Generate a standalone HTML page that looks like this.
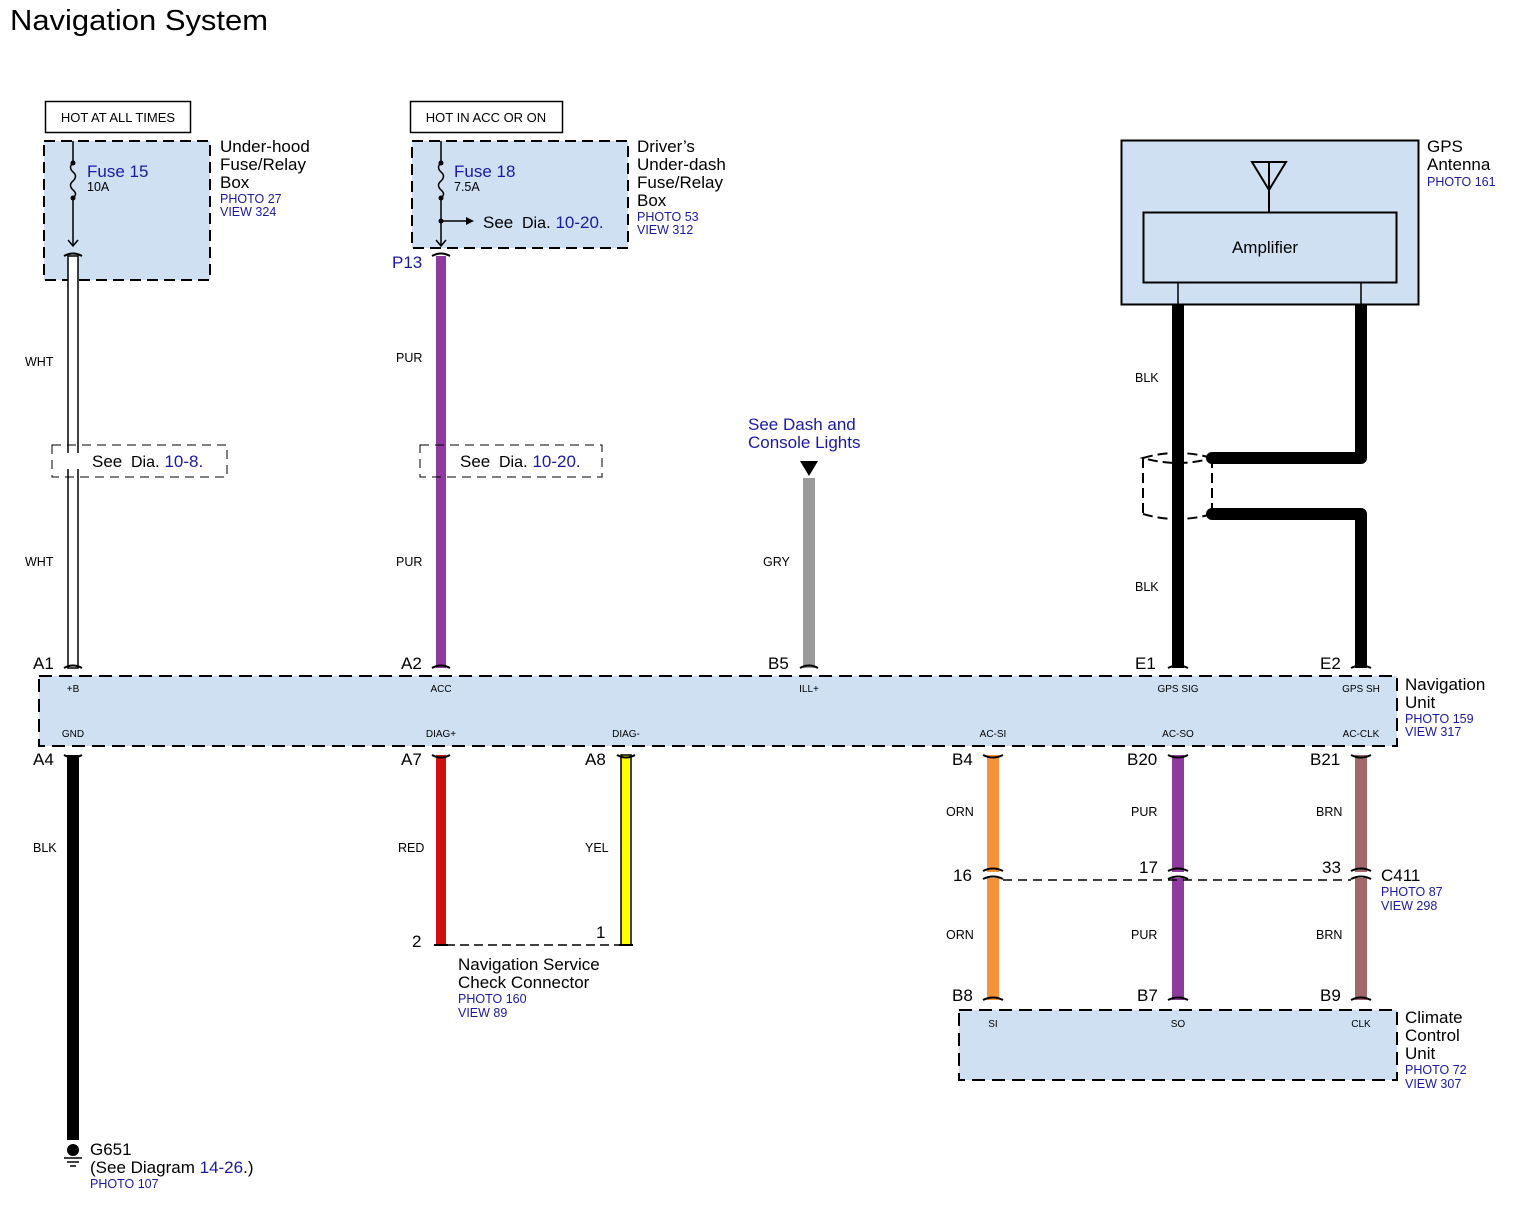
<!DOCTYPE html>
<html><head><meta charset="utf-8"><style>
html,body{margin:0;padding:0;background:#fff;}
svg{display:block;font-family:"Liberation Sans",Arial,sans-serif;}
.b{fill:#1a1aa0}
.s{font-size:12.5px}
.m{font-size:17px}
</style></head><body>
<svg width="1519" height="1207" viewBox="0 0 1519 1207" xmlns="http://www.w3.org/2000/svg">
<text x="10" y="30" font-size="29" textLength="258" lengthAdjust="spacingAndGlyphs">Navigation System</text>

<rect x="45.5" y="101.5" width="145" height="31" fill="#fff" stroke="#000" stroke-width="1.5"/>
<text x="118" y="122" font-size="13" text-anchor="middle">HOT AT ALL TIMES</text>
<rect x="410.5" y="101.5" width="152" height="31" fill="#fff" stroke="#000" stroke-width="1.5"/>
<text x="486" y="122" font-size="13" text-anchor="middle">HOT IN ACC OR ON</text>

<rect x="44" y="141" width="166" height="139" fill="#cfe0f3" stroke="#000" stroke-width="2" stroke-dasharray="11,6"/>
<rect x="412" y="141" width="216" height="107" fill="#cfe0f3" stroke="#000" stroke-width="2" stroke-dasharray="11,6"/>
<line x1="73" y1="141" x2="73" y2="163" stroke="#000" stroke-width="1.5"/>
<circle cx="73" cy="163" r="2.5"/><circle cx="73" cy="198" r="2.5"/>
<path d="M73 163 q-5 4 0 9 q5 4 0 9 q-5 4 0 9 q5 4 0 8" fill="none" stroke="#000" stroke-width="1.5"/>
<line x1="73" y1="198" x2="73" y2="246" stroke="#000" stroke-width="1.5"/>
<path d="M68 240 L73 246 L78 240" fill="none" stroke="#000" stroke-width="1.5"/>
<text x="87" y="177" font-size="17" class="b">Fuse 15</text>
<text x="87" y="191" class="s">10A</text>
<text x="220" y="152" class="m">Under-hood</text>
<text x="220" y="170" class="m">Fuse/Relay</text>
<text x="220" y="188" class="m">Box</text>
<text x="220" y="203" class="s b">PHOTO 27</text>
<text x="220" y="216" class="s b">VIEW 324</text>
<line x1="441" y1="141" x2="441" y2="163" stroke="#000" stroke-width="1.5"/>
<circle cx="441" cy="163" r="2.5"/><circle cx="441" cy="198" r="2.5"/><circle cx="441" cy="221" r="2.5"/>
<path d="M441 163 q-5 4 0 9 q5 4 0 9 q-5 4 0 9 q5 4 0 8" fill="none" stroke="#000" stroke-width="1.5"/>
<line x1="441" y1="198" x2="441" y2="246" stroke="#000" stroke-width="1.5"/>
<path d="M436 240 L441 246 L446 240" fill="none" stroke="#000" stroke-width="1.5"/>
<line x1="441" y1="221" x2="470" y2="221" stroke="#000" stroke-width="1.5"/>
<path d="M466 217 L474 221 L466 225 Z"/>
<text x="454" y="177" font-size="17" class="b">Fuse 18</text>
<text x="454" y="191" class="s">7.5A</text>
<text x="483" y="228" font-size="17">See <tspan dx="4" font-size="16">Dia</tspan>. <tspan class="b">10-20.</tspan></text>
<text x="637" y="152" class="m">Driver’s</text>
<text x="637" y="170" class="m">Under-dash</text>
<text x="637" y="188" class="m">Fuse/Relay</text>
<text x="637" y="206" class="m">Box</text>
<text x="637" y="221" class="s b">PHOTO 53</text>
<text x="637" y="234" class="s b">VIEW 312</text>

<rect x="68" y="256" width="10" height="412" fill="#fff" stroke="#000" stroke-width="1.5"/>
<path d="M64 256 q9 -5 18 0" fill="none" stroke="#000" stroke-width="2"/>
<path d="M64 668 q9 -5 18 0" fill="none" stroke="#000" stroke-width="2"/>
<text x="25" y="366" class="s">WHT</text>
<text x="25" y="566" class="s">WHT</text>
<rect x="52" y="445" width="175" height="32" fill="none" stroke="#000" stroke-width="1" stroke-dasharray="9,6"/>
<rect x="60" y="453" width="20" height="16" fill="#fff"/>
<text x="92" y="467" font-size="17">See <tspan dx="4" font-size="16">Dia</tspan>. <tspan class="b">10-8.</tspan></text>
<text x="33" y="669" class="m">A1</text>

<rect x="436" y="256" width="10" height="412" fill="#8e3a9e"/>
<path d="M432 256 q9 -5 18 0" fill="none" stroke="#000" stroke-width="2"/>
<path d="M432 668 q9 -5 18 0" fill="none" stroke="#000" stroke-width="2"/>
<text x="392" y="268" class="m b">P13</text>
<text x="396" y="362" class="s">PUR</text>
<text x="396" y="566" class="s">PUR</text>
<rect x="420" y="445" width="182" height="32" fill="none" stroke="#000" stroke-width="1" stroke-dasharray="9,6"/>
<rect x="428" y="453" width="26" height="16" fill="#fff"/>
<rect x="436" y="453" width="10" height="16" fill="#8e3a9e"/>
<text x="460" y="467" font-size="17">See <tspan dx="4" font-size="16">Dia</tspan>. <tspan class="b">10-20.</tspan></text>
<text x="401" y="669" class="m">A2</text>

<text x="748" y="430" class="m b">See Dash and</text>
<text x="748" y="448" class="m b">Console Lights</text>
<path d="M800 461 L818 461 L809 476 Z"/>
<rect x="803" y="478" width="12" height="190" fill="#9a9a9a"/>
<path d="M800 668 q9 -5 18 0" fill="none" stroke="#000" stroke-width="2"/>
<text x="763" y="566" class="s">GRY</text>
<text x="768" y="669" class="m">B5</text>

<rect x="1121.5" y="140.5" width="297" height="164" fill="#cfe0f3" stroke="#000" stroke-width="2"/>
<rect x="1143.5" y="212.5" width="253" height="70" fill="#cfe0f3" stroke="#000" stroke-width="2"/>
<text x="1265" y="253" class="m" text-anchor="middle">Amplifier</text>
<path d="M1252 162 L1269 190 L1286 162 Z" fill="none" stroke="#000" stroke-width="2"/>
<line x1="1269" y1="162" x2="1269" y2="212" stroke="#000" stroke-width="2"/>
<line x1="1178" y1="282" x2="1178" y2="304" stroke="#000" stroke-width="1.5"/>
<line x1="1361" y1="282" x2="1361" y2="304" stroke="#000" stroke-width="1.5"/>
<text x="1427" y="152" class="m">GPS</text>
<text x="1427" y="170" class="m">Antenna</text>
<text x="1427" y="186" class="s b">PHOTO 161</text>

<rect x="1172" y="304" width="12" height="364" fill="#000"/>
<path d="M1361 304 L1361 458 L1212 458" fill="none" stroke="#000" stroke-width="12" stroke-linejoin="round"/>
<path d="M1212 514 L1361 514 L1361 668" fill="none" stroke="#000" stroke-width="12" stroke-linejoin="round"/>
<circle cx="1212" cy="458" r="6"/><circle cx="1212" cy="514" r="6"/>
<path d="M1212 458 q-35 -10 -69 0 q35 10 69 0 M1212 514 q-35 10 -69 0 M1143 458 L1143 514 M1212 458 L1212 514" fill="none" stroke="#000" stroke-width="2" stroke-dasharray="10,5"/>
<path d="M1168 668 q10 -5 20 0 M1351 668 q10 -5 20 0" fill="none" stroke="#000" stroke-width="2"/>
<text x="1135" y="382" class="s">BLK</text>
<text x="1135" y="591" class="s">BLK</text>
<text x="1135" y="669" class="m">E1</text>
<text x="1320" y="669" class="m">E2</text>

<rect x="39" y="676" width="1358" height="70" fill="#cfe0f3" stroke="#000" stroke-width="2" stroke-dasharray="13,7"/>
<g font-size="10" text-anchor="middle">
<text x="73" y="692">+B</text><text x="441" y="692">ACC</text><text x="809" y="692">ILL+</text>
<text x="1178" y="692">GPS SIG</text><text x="1361" y="692">GPS SH</text>
<text x="73" y="737">GND</text><text x="441" y="737">DIAG+</text><text x="626" y="737">DIAG-</text>
<text x="993" y="737">AC-SI</text><text x="1178" y="737">AC-SO</text><text x="1361" y="737">AC-CLK</text>
</g>
<text x="1405" y="690" class="m">Navigation</text>
<text x="1405" y="708" class="m">Unit</text>
<text x="1405" y="723" class="s b">PHOTO 159</text>
<text x="1405" y="736" class="s b">VIEW 317</text>

<rect x="67" y="755" width="12" height="385" fill="#000"/>
<text x="33" y="765" class="m">A4</text>
<text x="33" y="852" class="s">BLK</text>
<circle cx="73" cy="1150" r="6"/>
<path d="M64 1158 h18 M67 1162 h12 M70 1166 h6" stroke="#000" stroke-width="1.5"/>
<text x="90" y="1155" class="m">G651</text>
<text x="90" y="1173" class="m">(See Diagram <tspan class="b">14-26</tspan>.)</text>
<text x="90" y="1188" class="s b">PHOTO 107</text>

<rect x="436" y="755" width="10" height="190" fill="#cc1111"/>
<text x="401" y="765" class="m">A7</text>
<text x="398" y="852" class="s">RED</text>
<rect x="621" y="755" width="10" height="190" fill="#ffff00" stroke="#000" stroke-width="1.5"/>
<text x="585" y="765" class="m">A8</text>
<text x="585" y="852" class="s">YEL</text>
<line x1="446" y1="945" x2="621" y2="945" stroke="#000" stroke-width="1.5" stroke-dasharray="9,5"/>
<line x1="434" y1="945" x2="448" y2="945" stroke="#000" stroke-width="2"/>
<line x1="619" y1="945" x2="633" y2="945" stroke="#000" stroke-width="2"/>
<text x="412" y="947" class="m">2</text>
<text x="596" y="938" class="m">1</text>
<text x="458" y="970" class="m">Navigation Service</text>
<text x="458" y="988" class="m">Check Connector</text>
<text x="458" y="1003" class="s b">PHOTO 160</text>
<text x="458" y="1017" class="s b">VIEW 89</text>

<rect x="987" y="755" width="12" height="245" fill="#f7923a"/>
<rect x="1172" y="755" width="12" height="245" fill="#8e3a9e"/>
<rect x="1355" y="755" width="12" height="245" fill="#a06868"/>
<path d="M432 755 q9 5 18 0 M617 755 q9 5 18 0 M64 755 q9 5 18 0 M983 755 q10 5 20 0 M1168 755 q10 5 20 0 M1351 755 q10 5 20 0" fill="none" stroke="#000" stroke-width="2"/>
<path d="M983 1000 q10 -5 20 0 M1168 1000 q10 -5 20 0 M1351 1000 q10 -5 20 0" fill="none" stroke="#000" stroke-width="2"/>
<g fill="#fff"><rect x="985" y="872" width="16" height="6"/><rect x="1170" y="872" width="16" height="6"/><rect x="1353" y="872" width="16" height="6"/></g>
<path d="M983 871 q10 -5 20 0 M983 879 q10 -5 20 0 M1168 871 q10 -5 20 0 M1168 879 q10 -5 20 0 M1351 871 q10 -5 20 0 M1351 879 q10 -5 20 0" fill="none" stroke="#000" stroke-width="2"/>
<line x1="1003" y1="880" x2="1351" y2="880" stroke="#000" stroke-width="1.5" stroke-dasharray="9,6"/>
<text x="952" y="765" class="m">B4</text>
<text x="1127" y="765" class="m">B20</text>
<text x="1310" y="765" class="m">B21</text>
<text x="946" y="816" class="s">ORN</text>
<text x="1131" y="816" class="s">PUR</text>
<text x="1316" y="816" class="s">BRN</text>
<text x="953" y="881" class="m">16</text>
<text x="1139" y="873" class="m">17</text>
<text x="1322" y="873" class="m">33</text>
<text x="1381" y="881" class="m">C411</text>
<text x="1381" y="896" class="s b">PHOTO 87</text>
<text x="1381" y="910" class="s b">VIEW 298</text>
<text x="946" y="939" class="s">ORN</text>
<text x="1131" y="939" class="s">PUR</text>
<text x="1316" y="939" class="s">BRN</text>
<text x="952" y="1001" class="m">B8</text>
<text x="1137" y="1001" class="m">B7</text>
<text x="1320" y="1001" class="m">B9</text>

<rect x="959" y="1010" width="438" height="70" fill="#cfe0f3" stroke="#000" stroke-width="2" stroke-dasharray="13,7"/>
<g font-size="10" text-anchor="middle"><text x="993" y="1027">SI</text><text x="1178" y="1027">SO</text><text x="1361" y="1027">CLK</text></g>
<text x="1405" y="1023" class="m">Climate</text>
<text x="1405" y="1041" class="m">Control</text>
<text x="1405" y="1059" class="m">Unit</text>
<text x="1405" y="1074" class="s b">PHOTO 72</text>
<text x="1405" y="1088" class="s b">VIEW 307</text>
</svg>
</body></html>
